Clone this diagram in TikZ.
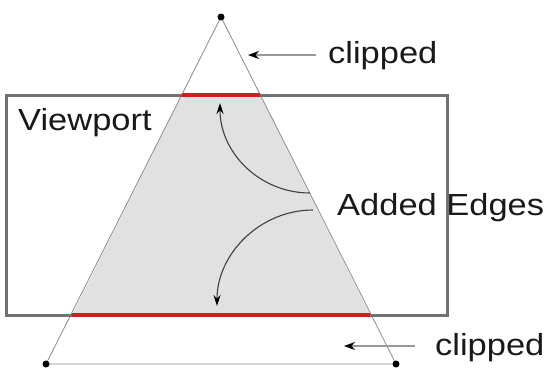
\documentclass[tikz,border=0pt]{standalone}
\usepackage{fontspec}
\setmainfont{Liberation Sans}[FakeStretch=1.13]
\usetikzlibrary{arrows.meta}
\definecolor{fillgray}{HTML}{E1E1E1}
\definecolor{edgegray}{HTML}{8A8A8A}
\definecolor{boxgray}{HTML}{717171}
\definecolor{clipred}{HTML}{D41C1C}
\definecolor{curvegray}{HTML}{404040}
\tikzset{
  lbl/.style={anchor=base west, inner sep=0pt, font=\fontsize{30.5}{34}\selectfont, text=black!90},
  vdot/.style={circle, fill=black, inner sep=0pt, minimum size=7pt},
  tri/.style={draw=edgegray, line width=0.8pt},
  vpbox/.style={draw=boxgray, line width=3pt},
  rededge/.style={draw=clipred, line width=3.2pt},
  addarrow/.style={draw=curvegray, line width=1.1pt, -{Stealth[length=11pt,width=7pt,black]}},
  cliparrow/.style={draw=gray!80, line width=1.8pt, -{Stealth[length=11pt,width=8pt,black]}}
}
\begin{document}
\begin{tikzpicture}[x=1pt,y=-1pt]
\useasboundingbox (0,0) rectangle (550,368);
% vertices
\coordinate (A) at (221,17);
\coordinate (B) at (46,364);
\coordinate (C) at (396,364);
% clipped edge end points
\coordinate (tl) at (182,95);
\coordinate (tr) at (260,95);
\coordinate (bl) at (72,315);
\coordinate (br) at (370,315);
% filled part inside viewport
\fill[fillgray] (tl) -- (tr) -- (br) -- (bl) -- cycle;
% triangle
\draw[tri] (A) -- (B) -- (C) -- cycle;
% viewport
\draw[vpbox] (6,95) rectangle (447,315);
% red added edges
\draw[rededge] (tl) -- (tr);
\draw[rededge] (bl) -- (br);
% vertex dots
\node[vdot] (vA) at (A) {};
\node[vdot] (vB) at (B) {};
\node[vdot] (vC) at (C) {};
% labels
\node[lbl] (clipTop) at (328,63) {clipped};
\node[lbl] (clipBot) at (435,355) {clipped};
\node[lbl] (vp) at (18,130) {Viewport};
\node[lbl] (added) at (337,215) {Added Edges};
% clipped arrows
\coordinate (ct1) at (316,55);
\coordinate (ct2) at (248,55);
\coordinate (cb1) at (415,346);
\coordinate (cb2) at (344,346);
\draw[cliparrow] (ct1) -- (ct2);
\draw[cliparrow] (cb1) -- (cb2);
% added edge arrows
\coordinate (u0) at (310,193);
\coordinate (u1) at (220,103);
\coordinate (d0) at (313,210);
\coordinate (d1) at (217,306);
\draw[addarrow] (u0) .. controls (260,193) and (220,153) .. (u1);
\draw[addarrow] (d0) .. controls (260,210) and (217,254) .. (d1);
\end{tikzpicture}
\end{document}
